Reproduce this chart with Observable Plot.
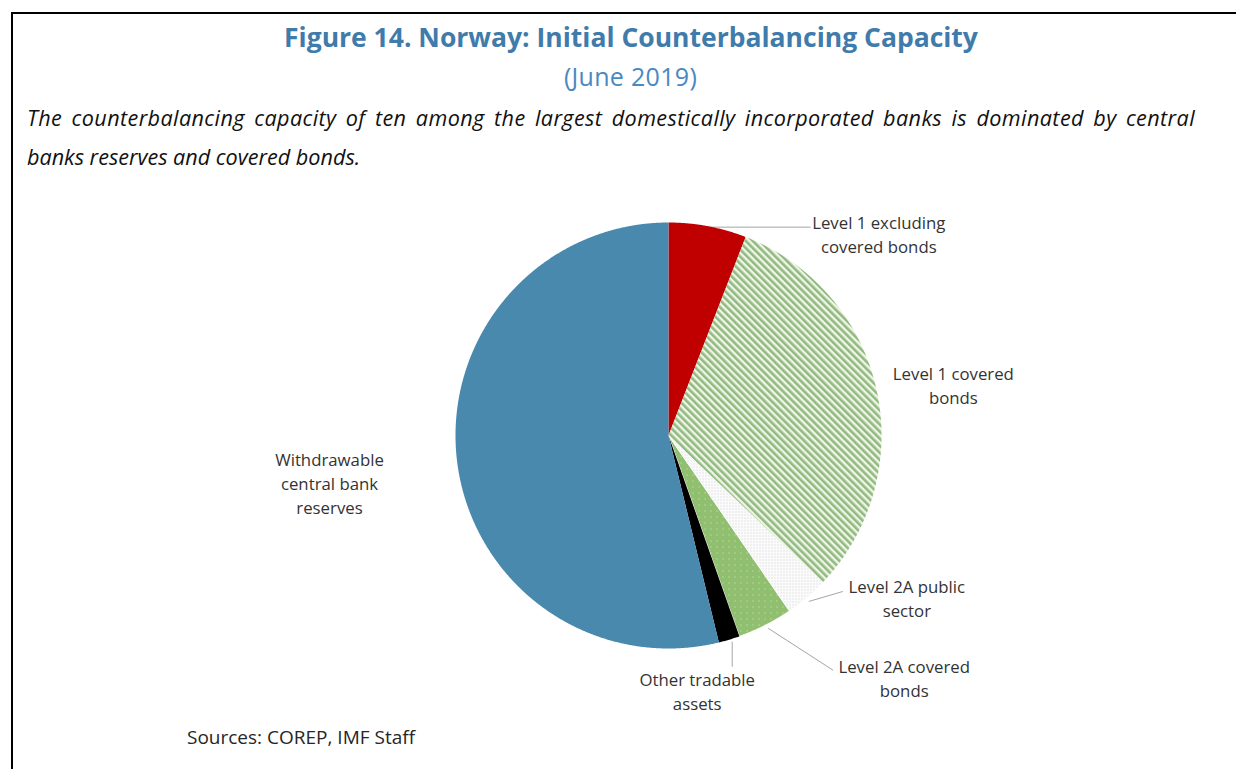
<!DOCTYPE html>
<html>
<head>
<meta charset="utf-8">
<script src="https://cdn.jsdelivr.net/npm/d3@7"></script>
<script src="https://cdn.jsdelivr.net/npm/@observablehq/plot@0.6"></script>
<style>
  body { margin: 0; background: #fff; width: 1236px; height: 769px; overflow: hidden; position: relative; font-family: "Open Sans", sans-serif; }
  #frame { position: absolute; left: 11px; top: 12px; width: 1225px; height: 757px; border-top: 2px solid #000; border-left: 2px solid #000; box-sizing: border-box; }
  #title { position: absolute; top: 18px; left: 0; width: 1262px; text-align: center; font-size: 26.5px; line-height: 38px; font-weight: 700; color: #3f7bab; }
  #subtitle { position: absolute; top: 60px; left: 0; width: 1261px; text-align: center; font-size: 25px; line-height: 32px; letter-spacing: 0.3px; color: #4a88c2; }
  #desc { position: absolute; top: 98px; left: 27px; font-size: 21.6px; line-height: 39px; font-style: italic; color: #111; }
  #desc .l1 { width: 1168px; text-align: justify; text-align-last: justify; white-space: nowrap; letter-spacing: 0.4px; }
  #desc .l2 { white-space: nowrap; }
  #chart { position: absolute; top: 190px; left: 0; }
  #source { position: absolute; top: 724px; left: 187px; font-size: 19px; line-height: 26px; color: #262626; }
</style>
</head>
<body>
<div id="frame"></div>
<div id="title">Figure 14. Norway: Initial Counterbalancing Capacity</div>
<div id="subtitle">(June 2019)</div>
<div id="desc"><div class="l1">The counterbalancing capacity of ten among the largest domestically incorporated banks is dominated by central</div><div class="l2">banks reserves and covered bonds.</div></div>
<div id="chart"></div>
<div id="source">Sources: COREP, IMF Staff</div>
<script>
// ---- Data (% of total) ----
const categories = [
  "Level 1 excluding covered bonds",
  "Level 1 covered bonds",
  "Level 2A public sector",
  "Level 2A covered bonds",
  "Other tradable assets",
  "Withdrawable central bank reserves"
];
const shares = [5.9, 31.2, 3.3, 4.2, 1.6, 53.8];
const labelTexts = [
  "Level 1 excluding\ncovered bonds",
  "Level 1 covered\nbonds",
  "Level 2A public\nsector",
  "Level 2A covered\nbonds",
  "Other tradable\nassets",
  "Withdrawable\ncentral bank\nreserves"
];

// ---- Layout / style ----
const W = 1236, H = 530, R = 213, CX = 668, CY = 245;
const fills = ["#c00000", "url(#hatch)", "url(#greydots)", "url(#greendots)", "#000000", "#4a89ae"];
const strokes = ["none", "none", "none", "#ffffff", "none", "none"];
// label centre offsets (px) from each slice's outer mid-arc point
const labelOffsets = [[171, 7], [77, -5], [100, 0], [139, 52], [-32, 51], [-127.5, 21]];
// leader line start/end offsets (px) from the mid-arc point
const leaders = [[[0, 1], [103, 1]], null, [[2, 4], [36, -6]], [[3, 3], [68, 45]], [[3, 2], [3, 27]], null];

// ---- Build slices ----
const total = d3.sum(shares);
let acc = 0;
const slices = categories.map((c, i) => {
  const a0 = acc / total * 2 * Math.PI;
  acc += shares[i];
  const a1 = acc / total * 2 * Math.PI;
  return {c, i, a0, a1, mid: (a0 + a1) / 2};
});
const polys = slices.map(s => {
  const p = [{x: 0, y: 0}];
  const n = Math.max(2, Math.ceil((s.a1 - s.a0) / (Math.PI / 720)));
  for (let k = 0; k <= n; k++) {
    const a = s.a0 + (s.a1 - s.a0) * k / n;
    p.push({x: Math.sin(a), y: Math.cos(a)});
  }
  p.push({x: 0, y: 0});
  return p;
});
const labels = slices.map(s => {
  const ax = Math.sin(s.mid), ay = Math.cos(s.mid);
  const [dx, dy] = labelOffsets[s.i];
  return {text: labelTexts[s.i], x: ax + dx / R, y: ay - dy / R};
});
const links = slices.filter(s => leaders[s.i]).map(s => {
  const ax = Math.sin(s.mid), ay = Math.cos(s.mid);
  const [[sx, sy], [ex, ey]] = leaders[s.i];
  return {x1: ax + sx / R, y1: ay - sy / R, x2: ax + ex / R, y2: ay - ey / R};
});

const svg = Plot.plot({
  width: W, height: H,
  marginTop: 0, marginRight: 0, marginBottom: 0, marginLeft: 0,
  style: {fontFamily: "Open Sans, sans-serif", background: "transparent", overflow: "visible"},
  x: {domain: [-CX / R, (W - CX) / R], range: [0, W], axis: null},
  y: {domain: [-(H - CY) / R, CY / R], range: [H, 0], axis: null},
  marks: [
    Plot.link(links, {x1: "x1", y1: "y1", x2: "x2", y2: "y2", stroke: "#a6a6a6", strokeWidth: 1}),
    ...slices.map(s => Plot.line(polys[s.i], {x: "x", y: "y", fill: fills[s.i], stroke: strokes[s.i], strokeWidth: 1})),
    Plot.text(labels, {x: "x", y: "y", text: "text", fontSize: 16.8, lineHeight: 1.43, fill: "#333333", textAnchor: "middle", lineAnchor: "middle"})
  ]
});

// patterns
const defs = d3.select(svg).insert("defs", ":first-child");
const hatch = defs.append("pattern").attr("id", "hatch").attr("patternUnits", "userSpaceOnUse")
  .attr("width", 5).attr("height", 5).attr("patternTransform", "rotate(-45)");
hatch.append("rect").attr("width", 5).attr("height", 5).attr("fill", "#eef6e6");
hatch.append("rect").attr("width", 2.6).attr("height", 5).attr("fill", "#92b981");
const gd = defs.append("pattern").attr("id", "greydots").attr("patternUnits", "userSpaceOnUse")
  .attr("width", 3).attr("height", 3);
gd.append("rect").attr("width", 3).attr("height", 3).attr("fill", "#fbfbfb");
gd.append("rect").attr("width", 1).attr("height", 1).attr("fill", "#cfcfcf");
const gr = defs.append("pattern").attr("id", "greendots").attr("patternUnits", "userSpaceOnUse")
  .attr("width", 6).attr("height", 6);
gr.append("rect").attr("width", 6).attr("height", 6).attr("fill", "#8fbf6f");
gr.append("rect").attr("x", 2).attr("y", 2).attr("width", 1).attr("height", 1).attr("fill", "#d4ebc4");

document.getElementById("chart").appendChild(svg);
</script>
</body>
</html>
